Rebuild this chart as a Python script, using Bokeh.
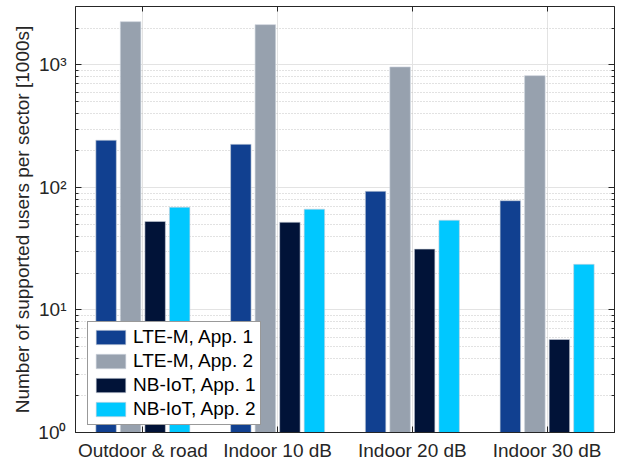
from bokeh.plotting import figure
from bokeh.models import (Range1d, FixedTicker, LogAxis, LinearAxis, LogTicker, Legend,
                          CustomJSTickFormatter)
from bokeh.transform import dodge
from bokeh.embed import file_html
from bokeh.resources import INLINE

categories = ["Outdoor & road", "Indoor 10 dB", "Indoor 20 dB", "Indoor 30 dB"]
series_names = ["LTE-M, App. 1", "LTE-M, App. 2", "NB-IoT, App. 1", "NB-IoT, App. 2"]
lte_app1 = [243, 225, 93, 78]
lte_app2 = [2254, 2133, 963, 818]
nb_app1 = [52.8, 52, 31.4, 5.75]
nb_app2 = [69, 66.5, 54, 23.6]
y_tick_labels = {1: "10\u2070", 10: "10\u00b9", 100: "10\u00b2", 1000: "10\u00b3"}

colors = ["#114090", "#97A1AE", "#011338", "#00C8FF"]
offsets = [-0.273, -0.091, 0.091, 0.273]
FONT = "Liberation Sans"
FS = "19px"
AX = "#262626"

p = figure(width=620, height=466, y_axis_type="log",
           x_range=Range1d(0.5, 4.5), y_range=Range1d(1, 3000),
           output_backend="svg", toolbar_location=None,
           min_border_left=75, min_border_right=6, min_border_top=6, min_border_bottom=34)
p.background_fill_color = "white"
p.border_fill_color = "white"
p.outline_line_color = None

xs = list(range(1, len(categories) + 1))
data = dict(x=xs, a=lte_app1, b=lte_app2, c=nb_app1, d=nb_app2)
renderers = []
for key, name, col, off in zip(["a", "b", "c", "d"], series_names, colors, offsets):
    r = p.vbar(x=dodge("x", off), top=key, bottom=1, width=0.152, source=data,
               fill_color=col, line_color="#c9d0da", line_width=0.6)
    renderers.append((name, [r]))

# axes styling
xa = p.xaxis[0]
xa.ticker = FixedTicker(ticks=xs)
xa.major_label_overrides = {i: c for i, c in zip(xs, categories)}
ya = p.yaxis[0]
ya.ticker = LogTicker(num_minor_ticks=10)
ya.major_label_overrides = y_tick_labels
ya.axis_label = "Number of supported users per sector [1000s]"
ya.axis_label_text_font_style = "normal"
ya.axis_label_standoff = 2

for ax in [xa, ya]:
    ax.axis_line_color = AX
    ax.major_tick_line_color = AX
    ax.minor_tick_line_color = AX
    ax.major_tick_in = 6
    ax.major_tick_out = 0
    ax.minor_tick_in = 3
    ax.minor_tick_out = 0
    ax.major_label_text_font = FONT
    ax.major_label_text_font_size = FS
    ax.major_label_text_color = AX
    ax.axis_label_text_font = FONT
    ax.axis_label_text_font_size = FS
    ax.axis_label_text_color = AX
xa.major_label_standoff = 7
ya.major_label_standoff = 9
xa.minor_tick_line_color = None

top = LinearAxis(ticker=FixedTicker(ticks=xs), formatter=CustomJSTickFormatter(code="return ''"),
                 major_label_standoff=0, axis_line_color=AX, major_tick_line_color=AX,
                 major_tick_in=5, major_tick_out=0, minor_tick_line_color=None)
right = LogAxis(ticker=LogTicker(num_minor_ticks=10), formatter=CustomJSTickFormatter(code="return ''"),
                major_label_standoff=0, axis_line_color=AX, major_tick_line_color=AX,
                minor_tick_line_color=AX, major_tick_in=6, major_tick_out=0,
                minor_tick_in=3, minor_tick_out=0)
p.add_layout(top, "above")
p.add_layout(right, "right")

# grids
p.xgrid.ticker = FixedTicker(ticks=xs)
p.xgrid.grid_line_color = "#e3e3e3"
p.ygrid.grid_line_color = "#e3e3e3"
p.ygrid.minor_grid_line_color = "#c4c4c4"
p.ygrid.minor_grid_line_dash = "1 2"

legend = Legend(items=renderers, location=(12, 7))
legend.label_text_font = FONT
legend.label_text_font_size = FS
legend.label_text_color = "black"
legend.glyph_width = 37
legend.glyph_height = 18
legend.label_height = 20
legend.label_width = 123
legend.label_standoff = 4
legend.spacing = 2
legend.padding = 4
legend.margin = 0
legend.border_line_color = "#333333"
legend.border_line_width = 1
legend.background_fill_alpha = 1
p.add_layout(legend, "center")

open("out.html", "w").write(file_html(p, INLINE))
